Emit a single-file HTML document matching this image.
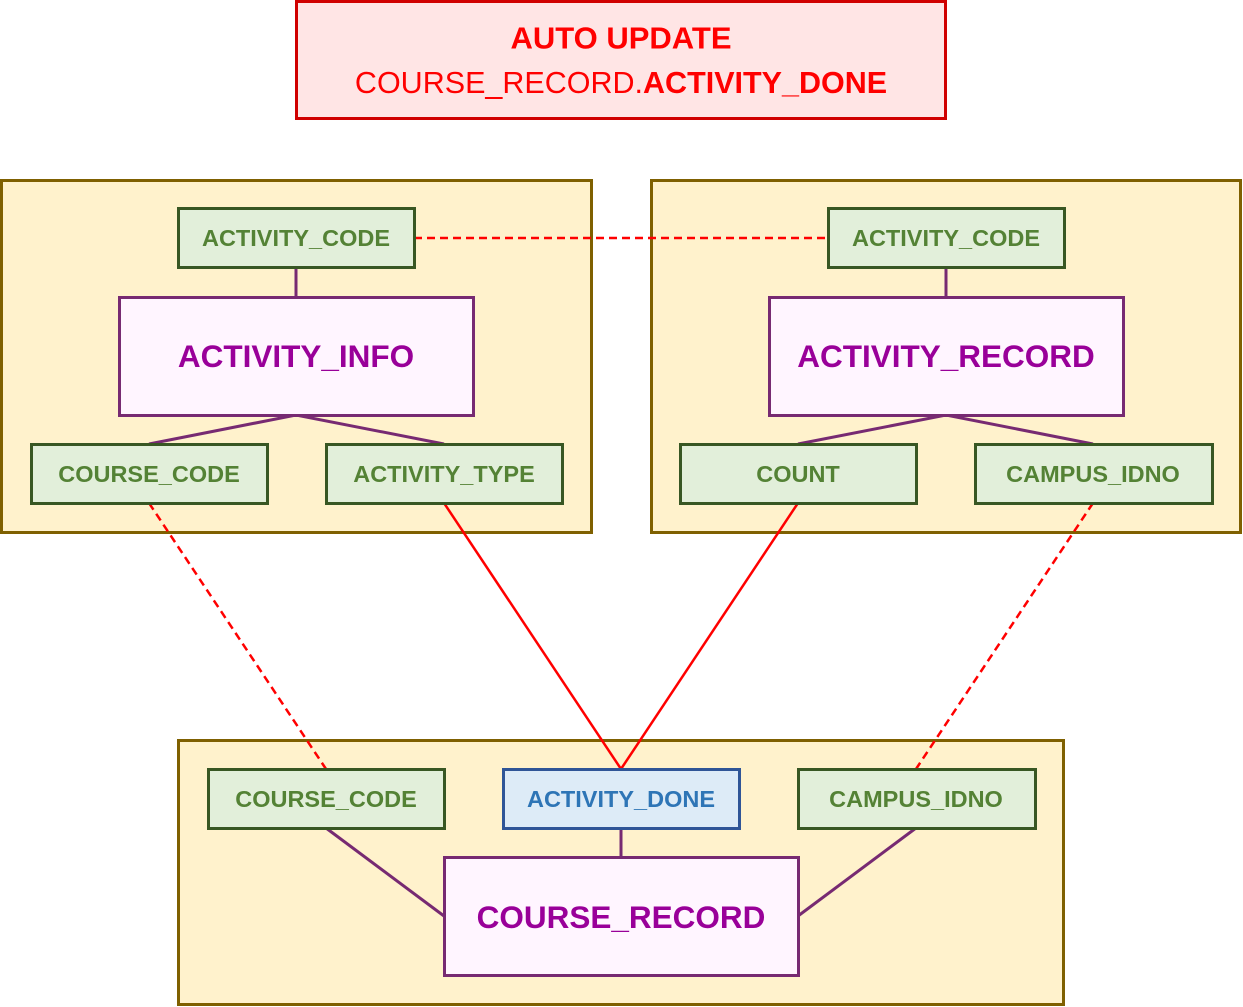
<!DOCTYPE html>
<html><head><meta charset="utf-8"><style>
html,body{margin:0;padding:0;background:#fff}
svg{display:block}
text{font-family:"Liberation Sans",sans-serif;font-weight:bold;text-anchor:middle;dominant-baseline:central}
.g rect{fill:#e2efda;stroke:#385723;stroke-width:3}
.g text{fill:#548235;font-size:23.5px}
.p rect{fill:#fff5ff;stroke:#772a72;stroke-width:3}
.p text{fill:#990099;font-size:31.5px}
.c{fill:#fff2cc;stroke:#7f6000;stroke-width:3}
.pl{stroke:#772a72;stroke-width:3;fill:none}
.rd{stroke:#ff0000;stroke-width:2.5;fill:none}
.dash{stroke-dasharray:8 5}
</style></head><body>
<svg width="1243" height="1007" viewBox="0 0 1243 1007">
<rect x="296.5" y="1.5" width="649" height="117" fill="#ffe5e5" stroke="#d00000" stroke-width="3"/>
<text x="621" y="38" fill="#ff0000" font-size="31">AUTO UPDATE</text>
<text x="621" y="83" fill="#ff0000" font-size="30.5"><tspan font-weight="normal">COURSE_RECORD.</tspan>ACTIVITY_DONE</text>

<rect class="c" x="1.5" y="180.5" width="590" height="352"/>
<rect class="c" x="651.5" y="180.5" width="589" height="352"/>
<rect class="c" x="178.5" y="740.5" width="885" height="264"/>

<g class="pl">
<line x1="296" y1="267" x2="296" y2="297"/>
<polyline points="149,444 296,415 444,444"/>
<line x1="946" y1="267" x2="946" y2="297"/>
<polyline points="798,444 946,415 1093,444"/>
<line x1="326" y1="828" x2="444" y2="916"/>
<line x1="621" y1="828" x2="621" y2="857"/>
<line x1="916" y1="828" x2="798" y2="916"/>
</g>
<g class="rd">
<line class="dash" x1="414" y1="238" x2="828" y2="238"/>
<line class="dash" x1="149" y1="503" x2="326" y2="769"/>
<line x1="444" y1="503" x2="621" y2="769"/>
<line x1="798" y1="503" x2="621" y2="769"/>
<line class="dash" x1="1093" y1="503" x2="916" y2="769"/>
</g>

<g class="g">
<rect x="178.5" y="208.5" width="236" height="59"/><text x="296" y="238">ACTIVITY_CODE</text>
<rect x="31.5" y="444.5" width="236" height="59"/><text x="149" y="474">COURSE_CODE</text>
<rect x="326.5" y="444.5" width="236" height="59"/><text x="444" y="474">ACTIVITY_TYPE</text>
<rect x="828.5" y="208.5" width="236" height="59"/><text x="946" y="238">ACTIVITY_CODE</text>
<rect x="680.5" y="444.5" width="236" height="59"/><text x="798" y="474">COUNT</text>
<rect x="975.5" y="444.5" width="237" height="59"/><text x="1093" y="474">CAMPUS_IDNO</text>
<rect x="208.5" y="769.5" width="236" height="59"/><text x="326" y="799">COURSE_CODE</text>
<rect x="798.5" y="769.5" width="237" height="59"/><text x="916" y="799">CAMPUS_IDNO</text>
</g>
<rect x="503.5" y="769.5" width="236" height="59" fill="#ddebf7" stroke="#2f5597" stroke-width="3"/>
<text x="621" y="799" fill="#2e75b6" font-size="23.5">ACTIVITY_DONE</text>

<g class="p">
<rect x="119.5" y="297.5" width="354" height="118"/><text x="296" y="356">ACTIVITY_INFO</text>
<rect x="769.5" y="297.5" width="354" height="118"/><text x="946" y="356">ACTIVITY_RECORD</text>
<rect x="444.5" y="857.5" width="354" height="118"/><text x="621" y="917">COURSE_RECORD</text>
</g>
</svg>
</body></html>
